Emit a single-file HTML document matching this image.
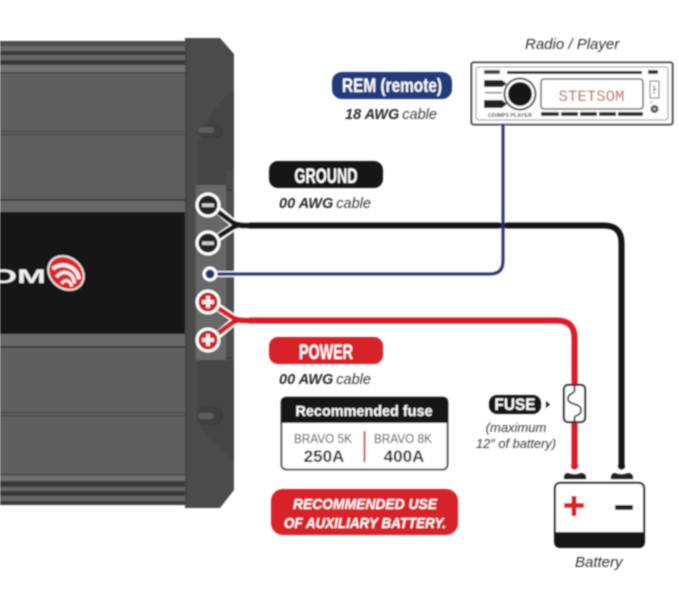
<!DOCTYPE html>
<html><head><meta charset="utf-8"><style>
html,body{margin:0;padding:0;background:#fff;width:679px;height:589px;overflow:hidden}
svg{display:block}
text{font-family:"Liberation Sans",sans-serif}
.i{font-style:italic;font-size:14.500px;fill:#3a3a3a}
.ib{font-style:italic;font-weight:bold;font-size:14.500px;fill:#2a2a2a}
.c{font-weight:bold;fill:#fff;text-anchor:middle}
</style></head><body>
<svg width="679" height="589" viewBox="0 0 679 589" xmlns="http://www.w3.org/2000/svg">
<defs><filter id="b" x="-5%" y="-5%" width="110%" height="110%"><feGaussianBlur stdDeviation="0.7"/></filter></defs>
<g filter="url(#b)">
<!-- amp body -->
<rect x="0" y="41" width="186" height="464" fill="#5f5f5f"/>
<rect x="0" y="41" width="186" height="5" fill="#4e4e4e"/>
<rect x="0" y="46" width="186" height="5" fill="#6a6a6a"/>
<rect x="0" y="51" width="186" height="4" fill="#383838"/>
<rect x="0" y="55" width="186" height="5" fill="#666"/>
<rect x="0" y="60" width="186" height="5" fill="#383838"/>
<rect x="0" y="65" width="186" height="7" fill="#737373"/>
<rect x="0" y="72" width="186" height="1.500" fill="#444"/>
<rect x="0" y="131" width="186" height="1" fill="#444"/>
<rect x="0" y="134" width="186" height="1" fill="#444"/>
<rect x="0" y="199" width="186" height="2" fill="#3c3c3c"/>
<rect x="0" y="201" width="186" height="11" fill="#686868"/>
<rect x="0" y="212" width="186" height="122" fill="#161616"/>
<rect x="0" y="334" width="186" height="12" fill="#686868"/>
<rect x="0" y="346" width="186" height="2" fill="#3c3c3c"/>
<rect x="0" y="412" width="186" height="1" fill="#444"/>
<rect x="0" y="415" width="186" height="1" fill="#444"/>
<rect x="0" y="474" width="186" height="1.500" fill="#444"/>
<rect x="0" y="475.500" width="186" height="6" fill="#707070"/>
<rect x="0" y="481" width="186" height="6" fill="#383838"/>
<rect x="0" y="487" width="186" height="4" fill="#666"/>
<rect x="0" y="491" width="186" height="5" fill="#383838"/>
<rect x="0" y="496" width="186" height="5" fill="#666"/>
<rect x="0" y="501" width="186" height="4" fill="#3c3c3c"/>
<!-- end cap -->
<path d="M185 38H220L234 54V490L220 508H185Z" fill="#4b4b4b"/>
<path d="M234 90Q212 105 205 130L197 145V185H226V170Q226 172 234 168Z" fill="#444"/>
<path d="M197 360V420L210 440L234 462V360Z" fill="#454545"/>
<rect x="198" y="125" width="24" height="12" rx="6" fill="#404040" stroke="#3a3a3a"/>
<rect x="198" y="127" width="16" height="6" rx="3" fill="#5f5f5f"/>
<rect x="198" y="408" width="24" height="16" rx="7" fill="#404040" stroke="#3a3a3a"/>
<rect x="198" y="413" width="16" height="6" rx="3" fill="#5f5f5f"/>
<rect x="186" y="38" width="1" height="470" fill="#3a3a3a"/>
<!-- terminal plate -->
<rect x="196" y="185" width="30" height="175" fill="#686868"/>
<rect x="226" y="190" width="7" height="170" fill="#4e4e4e"/>
<path d="M226 190h6M226 270h6M226 358h6" stroke="#333"/>
<!-- logo -->
<text x="46" y="283" text-anchor="end" font-size="19" font-weight="bold" fill="#efefef" textLength="56" lengthAdjust="spacingAndGlyphs">OM</text>
<g transform="translate(66 273) rotate(38)">
<ellipse cx="0" cy="0" rx="20" ry="16.500" fill="#e8e0dc"/>
<ellipse cx="0" cy="0" rx="18" ry="14.500" fill="#d9252b"/>
<path d="M-13 5C-10-9 7-11 14-3" fill="none" stroke="#f4eeee" stroke-width="4"/>
<path d="M-5 9C-5-2 6-5 13 3" fill="none" stroke="#f4eeee" stroke-width="3.500"/>
<path d="M3 11C3 5 7 3 13 7" fill="none" stroke="#f4eeee" stroke-width="3"/>
</g>
<!-- wires halo -->
<g fill="none" stroke="#fff" stroke-linecap="round" stroke-linejoin="round">
<path d="M219 211L232 222Q236 225 246 225" stroke-width="8"/>
<path d="M219 237L232 228Q236 225 246 225" stroke-width="8"/>
<path d="M219 308L232 317Q236 320 246 320" stroke-width="8"/>
<path d="M219 334L232 323Q236 320 246 320" stroke-width="8"/>
<path d="M210 274H490Q503 274 503 261V125" stroke-width="6"/>
</g>
<!-- wires -->
<g fill="none" stroke-linecap="butt">
<path d="M213 208L232 222Q236 225 246 225" stroke="#161616" stroke-width="5"/>
<path d="M213 240L232 228Q236 225 246 225" stroke="#161616" stroke-width="5"/>
<path d="M240 225.500H604Q621.500 225.500 621.500 243V466" stroke="#161616" stroke-width="6"/>
<path d="M213 305L232 317Q236 320 246 320" stroke="#d81f2a" stroke-width="5"/>
<path d="M213 337L232 323Q236 320 246 320" stroke="#d81f2a" stroke-width="5"/>
<path d="M240 320.500H557Q574.500 320.500 574.500 338V466" stroke="#d81f2a" stroke-width="6"/>
<path d="M210 274H490Q503 274 503 261V125" stroke="#26326f" stroke-width="3.500"/>
</g>
<circle cx="621.500" cy="466" r="3.500" fill="#161616"/>
<circle cx="574.500" cy="466" r="3.500" fill="#d81f2a"/>
<!-- terminals -->
<circle cx="208" cy="205" r="11" fill="#222" stroke="#fff" stroke-width="3"/>
<rect x="202" y="203.500" width="12" height="3.500" fill="#ccc"/>
<circle cx="208" cy="243" r="11" fill="#222" stroke="#fff" stroke-width="3"/>
<rect x="202" y="241.500" width="12" height="3.500" fill="#ccc"/>
<circle cx="210" cy="274" r="6" fill="#26326f" stroke="#fff" stroke-width="3"/>
<g fill="#f4eeee">
<circle cx="208" cy="302" r="11" fill="#c8202c" stroke="#fff" stroke-width="3"/>
<rect x="202" y="300" width="12" height="4"/><rect x="206" y="296" width="4" height="12"/>
<circle cx="208" cy="340" r="11" fill="#c8202c" stroke="#fff" stroke-width="3"/>
<rect x="202" y="338" width="12" height="4"/><rect x="206" y="334" width="4" height="12"/>
</g>
<!-- radio -->
<rect x="471.500" y="62.500" width="201" height="62" rx="2" fill="#fff" stroke="#222" stroke-width="1.800"/>
<rect x="476" y="67" width="192" height="53" rx="3" fill="#fff" stroke="#888" stroke-width="1"/>
<rect x="484" y="70" width="16" height="4" fill="#444"/>
<rect x="507" y="71" width="135" height="3" fill="#222"/>
<rect x="648" y="70" width="10" height="4" fill="#333"/>
<path d="M484 80H502L507 84L502 87H484Z" fill="#222"/>
<rect x="485" y="92" width="17" height="1.500" fill="#777"/>
<path d="M484 100H502L507 104L502 108H484Z" fill="#222"/>
<circle cx="520" cy="94" r="15.500" fill="#fff" stroke="#222" stroke-width="1.800"/>
<circle cx="520" cy="94" r="12" fill="#161616"/>
<rect x="541" y="79" width="102" height="30" rx="3" fill="#fff" stroke="#333" stroke-width="1.300"/>
<text x="591.500" y="101" text-anchor="middle" font-size="15.500" style="font-family:'Liberation Mono',monospace" fill="#b5616a" textLength="66" lengthAdjust="spacingAndGlyphs">STETSOM</text>
<rect x="650" y="81" width="9" height="17" fill="#fff" stroke="#444"/>
<path d="M654 85v9M654 88l2 2" stroke="#666" fill="none"/>
<circle cx="654.500" cy="109" r="4" fill="#555"/><circle cx="654.500" cy="109" r="1.500" fill="#bbb"/>
<text x="650" y="104" font-size="5" fill="#444">&#215;</text>
<text x="510" y="117" text-anchor="middle" font-size="5.500" font-weight="bold" fill="#444">CD/MP3 PLAYER</text>
<path d="M541 114H559M561 114H578M580 114H597M599 114H616M618 114H643" stroke="#2a2a2a" stroke-width="4"/>
<!-- labels -->
<text x="525" y="49" font-size="15" font-style="italic" fill="#333">Radio / Player</text>
<rect x="332" y="72" width="120" height="27" rx="10" fill="#223a7a"/>
<text class="c" x="392" y="92" font-size="19" textLength="100" lengthAdjust="spacingAndGlyphs">REM (remote)</text>
<text x="345" y="119"><tspan class="ib">18 AWG</tspan><tspan class="i" dx="3">cable</tspan></text>
<rect x="269" y="161" width="114" height="27" rx="9" fill="#161616"/>
<text class="c" x="326" y="183" font-size="21" textLength="63" lengthAdjust="spacingAndGlyphs">GROUND</text>
<text x="279" y="208"><tspan class="ib">00 AWG</tspan><tspan class="i" dx="3">cable</tspan></text>
<rect x="269" y="337" width="114" height="27" rx="9" fill="#d8202a"/>
<text class="c" x="326" y="359" font-size="21" textLength="54" lengthAdjust="spacingAndGlyphs">POWER</text>
<text x="279" y="384"><tspan class="ib">00 AWG</tspan><tspan class="i" dx="3">cable</tspan></text>
<!-- fuse table -->
<rect x="281.500" y="397.500" width="166" height="72" rx="5" fill="#fff" stroke="#161616" stroke-width="1.600"/>
<path d="M281 423V402Q281 397 286 397H443Q448 397 448 402V423Z" fill="#161616"/>
<text class="c" x="364" y="416" font-size="14.500" textLength="137" lengthAdjust="spacingAndGlyphs">Recommended fuse</text>
<text x="323" y="443" text-anchor="middle" font-size="12.500" fill="#333" textLength="58" lengthAdjust="spacingAndGlyphs">BRAVO 5K</text>
<text x="403" y="443" text-anchor="middle" font-size="12.500" fill="#333" textLength="58" lengthAdjust="spacingAndGlyphs">BRAVO 8K</text>
<text x="324" y="462" text-anchor="middle" font-size="17" font-weight="bold" fill="#222">250A</text>
<text x="404" y="462" text-anchor="middle" font-size="17" font-weight="bold" fill="#222">400A</text>
<rect x="363.500" y="431" width="2" height="31" fill="#b8404a"/>
<!-- recommended -->
<rect x="271" y="489" width="187" height="46" rx="12" fill="#d8202a"/>
<text class="c" x="365" y="509" font-size="14.500" font-style="italic" textLength="144" lengthAdjust="spacingAndGlyphs">RECOMMENDED USE</text>
<text class="c" x="365" y="528" font-size="14.500" font-style="italic" textLength="162" lengthAdjust="spacingAndGlyphs">OF AUXILIARY BATTERY.</text>
<!-- fuse -->
<rect x="489" y="395" width="52" height="19" rx="8" fill="#161616"/>
<text class="c" x="515" y="410" font-size="16.500" textLength="41" lengthAdjust="spacingAndGlyphs">FUSE</text>
<path d="M546 401L550 404.500L546 408Z" fill="#222"/>
<text x="516" y="432" text-anchor="middle" font-style="italic" font-size="13" fill="#3a3a3a">(maximum</text>
<text x="516" y="448" text-anchor="middle" font-style="italic" font-size="12.800" fill="#3a3a3a">12&#8243; of battery)</text>
<rect x="564" y="385" width="21" height="37" rx="4" fill="#fff" stroke="#161616" stroke-width="2"/>
<path d="M574.500 385V391C574 394 568 393 568 399C568 405 581 403 581 410C581 416 575 415 574.500 417V422" fill="none" stroke="#222" stroke-width="1.800"/>
<!-- battery -->
<path d="M564 478Q564 473 568 473Q574.500 476 581 473Q586 473 586 478V479H564Z" fill="#222"/>
<path d="M611 478Q611 473 615 473Q621.500 476 628 473Q633 473 633 478V479H611Z" fill="#222"/>
<rect x="555" y="483" width="89" height="64" rx="5" fill="#fff" stroke="#161616" stroke-width="2"/>
<path d="M554 532H645V541Q645 548 638 548H561Q554 548 554 541Z" fill="#161616"/>
<path d="M564 505.500H584M574 496V516" stroke="#d8202a" stroke-width="5"/>
<rect x="615" y="505" width="18" height="5" fill="#222"/>
<text x="575" y="567" font-size="15" font-style="italic" fill="#333">Battery</text>
</g>
</svg>
</body></html>
